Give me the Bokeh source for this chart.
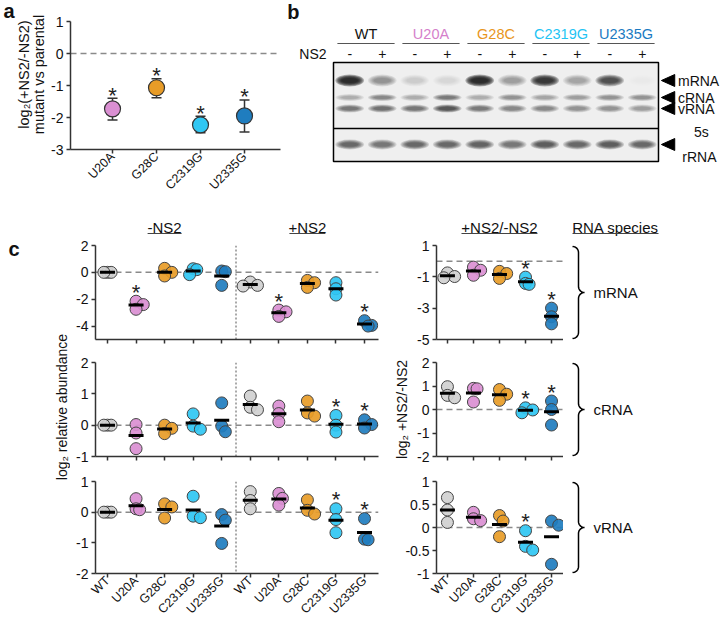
import math
import numpy as np
from bokeh.plotting import figure
from bokeh.models import Range1d, Span, FixedTicker, CustomJSTickFormatter
from bokeh.layouts import row, column
from bokeh.embed import file_html
from bokeh.resources import INLINE
from bokeh.core.properties import value

FONT = "Liberation Sans"

# ---------------- data ----------------
# panel a : log2(+NS2/-NS2) mutant vs parental, mean with error range
mutants = ["U20A", "G28C", "C2319G", "U2335G"]
a_mean = [-1.73, -1.07, -2.23, -1.95]
a_low = [-2.08, -1.38, -2.48, -2.45]
a_high = [-1.40, -0.79, -1.96, -1.45]
a_sig = [1, 1, 1, 1]

strains = ["WT", "U20A", "G28C", "C2319G", "U2335G"]
dot_colors = ["#d0d0d0", "#da8fd2", "#e89c27", "#30c7f3", "#1f7dbf"]
name_colors = ["#111111", "#d57fcb", "#e8961d", "#1fc4f4", "#1a7ac2"]

# panel b : band darkness (0-1) per lane (WT-, WT+, U20A-, U20A+, ...)
ns2_signs = ["-", "+"] * 5
band_mrna = [0.95, 0.45, 0.15, 0.10, 0.95, 0.40, 0.90, 0.35, 0.78, 0.03]
band_crna = [0.30, 0.50, 0.30, 0.55, 0.30, 0.45, 0.35, 0.40, 0.45, 0.45]
band_vrna = [0.60, 0.62, 0.60, 0.75, 0.55, 0.50, 0.50, 0.45, 0.45, 0.40]
band_rrna = [0.65, 0.60, 0.65, 0.65, 0.68, 0.60, 0.72, 0.65, 0.72, 0.65]

# panel c : log2 relative abundance, three replicates per strain
mrna_minus = [[0, 0, 0], [-2.15, -2.4, -2.75], [0.3, 0.0, -0.27], [0.27, 0.2, -0.17], [0.1, 0.05, -0.97]]
mrna_plus = [[-0.72, -0.97, -1.02], [-2.81, -2.94, -3.28], [-0.6, -0.77, -1.12], [-0.77, -1.22, -1.69], [-3.6, -3.95, -4.0]]
mrna_ratio = [[-0.75, -0.98, -1.06], [-0.38, -0.58, -0.9], [-0.65, -0.79, -1.1], [-1.02, -1.42, -1.48], [-3.0, -3.55, -4.0]]
crna_minus = [[0, 0, 0], [0.02, -0.25, -0.75], [0.0, -0.1, -0.27], [0.36, -0.03, -0.13], [0.71, -0.03, -0.21]]
crna_plus = [[0.93, 0.57, 0.49], [0.61, 0.37, 0.11], [0.77, 0.39, 0.29], [0.31, 0.0, -0.22], [0.17, 0.02, -0.09]]
crna_ratio = [[0.97, 0.6, 0.5], [0.9, 0.88, 0.32], [0.85, 0.65, 0.39], [0.07, -0.02, -0.14], [0.36, 0.0, -0.66]]
vrna_minus = [[0, 0, 0], [0.44, 0.11, 0.08], [0.27, 0.17, -0.19], [0.52, -0.13, -0.18], [-0.08, -0.26, -1.02]]
vrna_plus = [[0.67, 0.38, 0.11], [0.61, 0.45, 0.23], [0.4, 0.06, -0.06], [0.11, -0.24, -0.67], [-0.21, -0.88, -0.9]]
vrna_ratio = [[0.65, 0.38, 0.11], [0.33, 0.19, 0.15], [0.26, 0.14, -0.2], [-0.07, -0.41, -0.49], [0.14, 0.05, -0.8]]

mrna_minus_sig = [0, 1, 0, 0, 0]
mrna_plus_sig = [0, 1, 0, 0, 1]
mrna_ratio_sig = [0, 0, 0, 1, 1]
crna_minus_sig = [0, 0, 0, 0, 0]
crna_plus_sig = [0, 0, 0, 1, 1]
crna_ratio_sig = [0, 0, 0, 1, 1]
vrna_minus_sig = [0, 0, 0, 0, 0]
vrna_plus_sig = [0, 0, 0, 1, 1]
vrna_ratio_sig = [0, 0, 0, 1, 0]

species = ["mRNA", "cRNA", "vRNA"]


# ---------------- helpers ----------------
def base_fig(w, h, xr, yr, left, right, top, bottom, axes=True):
    kw = dict(width=w, height=h, x_range=xr, y_range=yr, output_backend="svg",
              toolbar_location=None, min_border_left=left, min_border_right=right,
              min_border_top=top, min_border_bottom=bottom, title=None)
    if not axes:
        kw.update(x_axis_location=None, y_axis_location=None)
    p = figure(**kw)
    p.outline_line_color = None
    p.background_fill_color = "white"
    p.border_fill_color = "white"
    p.xgrid.visible = False
    p.ygrid.visible = False
    return p


def txt(p, x, y, t, size="14px", align="center", baseline="middle", color="#111111",
        style="normal", angle=0.0, y_offset=0):
    p.text(x=x, y=y, text=t, text_align=align, text_baseline=baseline, angle=angle,
           text_font=value(FONT), text_font_size=value(size), text_font_style=style,
           text_color=color, y_offset=y_offset)


def style_axes(p):
    for ax in p.axis:
        ax.axis_line_color = "#333333"
        ax.axis_line_width = 1.5
        ax.major_tick_line_color = "#333333"
        ax.major_tick_line_width = 1.5
        ax.major_tick_in = 0
        ax.major_tick_out = 4
        ax.minor_tick_line_color = None
        ax.major_label_text_font = FONT
        ax.major_label_text_font_size = "14px"
        ax.major_label_text_color = "#111111"
        ax.major_label_standoff = 3
        ax.axis_label_text_font = FONT
        ax.axis_label_text_font_style = "normal"
        ax.axis_label_text_font_size = "14px"
        ax.axis_label_text_color = "#111111"
        ax.axis_label_standoff = 4
    p.yaxis.formatter = CustomJSTickFormatter(code="return String(tick)")


def beeswarm(vals, ppx_x, ppx_y, d=12.0):
    placed, offs = [], []
    for v in vals:
        y = v * ppx_y
        chosen = 0.0
        for k in [0, 1, -1, 2, -2, 3, -3, 4, -4]:
            dx = k * 0.3 * d
            ok = True
            for px, py in placed:
                dist2 = (dx - px) ** 2 + (y - py) ** 2
                if dist2 < (0.5 * d) ** 2 and not (abs(dx - px) >= 0.3 * d and abs(y - py) < 1):
                    ok = False
                    break
            if ok:
                chosen = dx
                break
        placed.append((chosen, y))
        offs.append(chosen / ppx_x)
    return offs


def dot_chart(groups, sigs, xr, w, h, borders, yrange, yticks, xlabels=None, divider=None,
              ylabel=None):
    left, right, top, bottom = borders
    p = base_fig(w, h, xr, Range1d(*yrange), left, right, top, bottom)
    fw, fh = w - left - right, h - top - bottom
    ppx_x = fw / (xr.end - xr.start)
    ppx_y = fh / (yrange[1] - yrange[0])
    n = len(groups)
    cats = list(range(1, n + 1))
    cols = (dot_colors * 2)[:n]
    xs, ys, cs = [], [], []
    for i, vals in enumerate(groups):
        offs = beeswarm(vals, ppx_x, ppx_y)
        for v, o in zip(vals, offs):
            xs.append(cats[i] + o)
            ys.append(v)
            cs.append(cols[i])
    p.add_layout(Span(location=0, dimension="width", line_color="#8a8a8a",
                      line_dash="6 4", line_width=1.5, level="underlay"))
    if divider is not None:
        p.add_layout(Span(location=divider, dimension="height", line_color="#555555",
                          line_dash="2 2", line_width=1, level="underlay"))
    p.scatter(x=xs, y=ys, size=12, marker="circle", fill_color=cs, fill_alpha=0.92,
              line_color="#444444", line_width=1)
    means = [float(np.mean(g)) for g in groups]
    hw = 7.5 / ppx_x
    p.segment(x0=[c - hw for c in cats], y0=means, x1=[c + hw for c in cats], y1=means,
              line_color="black", line_width=3)
    sx = [c for c, s in zip(cats, sigs) if s]
    sy = [max(g) for g, s in zip(groups, sigs) if s]
    if sx:
        txt(p, sx, sy, ["*"] * len(sx), size="22px", y_offset=-9, color="#222222")
    style_axes(p)
    p.xaxis.ticker = FixedTicker(ticks=cats)
    if xlabels:
        p.xaxis.major_label_overrides = {c: l for c, l in zip(cats, xlabels)}
        p.xaxis.major_label_orientation = math.pi / 4
        p.xaxis.major_label_text_font_size = "12.5px"
        p.xaxis.major_label_standoff = 1
    else:
        p.xaxis.major_label_overrides = {c: "" for c in cats}
        p.xaxis.major_label_standoff = 0
    p.yaxis.ticker = FixedTicker(ticks=yticks)
    if ylabel:
        p.yaxis.axis_label = ylabel
    return p


def brace_fig(w, h, top, bottom, label):
    p = base_fig(w, h, Range1d(0, w), Range1d(0, 1), 0, 0, top, bottom, axes=False)
    fh = h - top - bottom
    r, xl = 6.0, 9.0
    xm = xl + r
    T, B, M = 1.0, fh - 1.0, fh / 2.0
    pts = []
    for t in np.linspace(-90, 0, 10):
        a = math.radians(t)
        pts.append((xl + r * math.cos(a), T + r + r * math.sin(a)))
    for t in np.linspace(180, 90, 10):
        a = math.radians(t)
        pts.append((xm + r + r * math.cos(a), M - r + r * math.sin(a)))
    for t in np.linspace(270, 180, 10):
        a = math.radians(t)
        pts.append((xm + r + r * math.cos(a), M + r + r * math.sin(a)))
    for t in np.linspace(0, 90, 10):
        a = math.radians(t)
        pts.append((xl + r * math.cos(a), B - r + r * math.sin(a)))
    p.line(x=[q[0] for q in pts], y=[1 - q[1] / fh for q in pts], line_color="black",
           line_width=1.5)
    txt(p, [30], [0.5], [label], size="15px", align="left")
    return p


# ---------------- panel a ----------------
TOP_H = 200
acol = base_fig(48, TOP_H, Range1d(0, 48), Range1d(0, TOP_H), 0, 0, 0, 0, axes=False)
txt(acol, [3], [TOP_H - 10], ["a"], size="20px", align="left", style="bold")
txt(acol, [23], [TOP_H - 74], ["log\u2082(+NS2/-NS2)"], size="14.5px", angle=math.pi / 2)
txt(acol, [38], [TOP_H - 74], ["mutant vs parental"], size="14.5px", angle=math.pi / 2)

pa = base_fig(238, TOP_H, Range1d(0.045, 4.818), Range1d(-3, 1), 22, 6, 21, 46)
ax_x = list(range(1, len(mutants) + 1))
pa.add_layout(Span(location=0, dimension="width", line_color="#8a8a8a",
                   line_dash="6 4", line_width=1.5, level="underlay"))
cw = 5.0 / 44.0
pa.segment(x0=ax_x, y0=a_low, x1=ax_x, y1=a_high, line_color="#333333", line_width=1.5)
pa.segment(x0=[x - cw for x in ax_x], y0=a_low, x1=[x + cw for x in ax_x], y1=a_low,
           line_color="#333333", line_width=1.5)
pa.segment(x0=[x - cw for x in ax_x], y0=a_high, x1=[x + cw for x in ax_x], y1=a_high,
           line_color="#333333", line_width=1.5)
pa.scatter(x=ax_x, y=a_mean, size=16, marker="circle", fill_color=dot_colors[1:],
           line_color="#333333", line_width=1.2)
txt(pa, [x for x, s in zip(ax_x, a_sig) if s], [h for h, s in zip(a_high, a_sig) if s],
    ["*"] * sum(a_sig), size="22px", y_offset=-3, color="#222222")
style_axes(pa)
pa.xaxis.ticker = FixedTicker(ticks=ax_x)
pa.xaxis.major_label_overrides = {x: m for x, m in zip(ax_x, mutants)}
pa.xaxis.major_label_orientation = math.pi / 4
pa.xaxis.major_label_text_font_size = "12.5px"
pa.xaxis.major_label_standoff = 1
pa.yaxis.ticker = FixedTicker(ticks=[1, 0, -1, -2, -3])

# ---------------- panel b (gel) ----------------
pb = base_fig(434, TOP_H, Range1d(-1.946, 11.408), Range1d(138, -62), 0, 0, 0, 0, axes=False)
lanes = list(range(10))
pb.quad(left=[-0.5], right=[9.5], top=[0], bottom=[99], fill_color="#efefef", line_color=None)


def draw_bands(p, intens, y, h, w=0.88, n_layers=6):
    alphas = [1 - (1 - 0.93 * i) ** (1.0 / n_layers) for i in intens]
    for k in range(n_layers):
        f = 1 - k / n_layers
        p.ellipse(x=lanes, y=[y] * len(lanes), width=w * (0.5 + 0.5 * f),
                  height=h * (0.3 + 0.7 * f), fill_color="#151515", fill_alpha=alphas,
                  line_color=None)


draw_bands(pb, band_mrna, 18, 12)
draw_bands(pb, band_crna, 35, 7)
draw_bands(pb, band_vrna, 46, 8)
draw_bands(pb, band_rrna, 82, 10)
pb.quad(left=[-0.5], right=[9.5], top=[0], bottom=[99], fill_color=None,
        line_color="black", line_width=1.5)
pb.segment(x0=[-0.5], y0=[66], x1=[9.5], y1=[66], line_color="black", line_width=1.5)
grp = [2 * i + 0.5 for i in range(5)]
txt(pb, grp, [-29] * 5, strains, size="14.5px", color=name_colors)
pb.segment(x0=[g - 0.88 for g in grp], y0=[-19] * 5, x1=[g + 0.88 for g in grp], y1=[-19] * 5,
           line_color="#555555", line_width=1.2)
txt(pb, lanes, [-9] * 10, ns2_signs, size="14px")
txt(pb, [-0.715], [-9], ["NS2"], size="14px", align="right")
arrow_y = [18, 35, 46, 82]
pb.patches(xs=[[9.59, 10.0, 10.0] for _ in arrow_y],
           ys=[[y, y - 6, y + 6] for y in arrow_y], fill_color="black", line_color="black")
txt(pb, [10.1] * 3, arrow_y[:3], species, size="14px", align="left")
txt(pb, [10.82, 10.76], [69, 94], ["5s", "rRNA"], size="14px")
txt(pb, [-1.92], [-51], ["b"], size="20px", align="left", style="bold")

# ---------------- panel c ----------------
xL = Range1d(0.58, 10.49)
xR = Range1d(0.58, 5.46)
WY, WL, WR, WB = 70, 316, 177, 157
BL = (25, 8)
BR = (50, 0)
HH, H1, H2, H3 = 36, 114, 118, 156
C_H = HH + H1 + H2 + H3

ylab = base_fig(WY, C_H, Range1d(0, WY), Range1d(0, C_H), 0, 0, 0, 0, axes=False)
txt(ylab, [8], [C_H - 48], ["c"], size="20px", align="left", style="bold")
txt(ylab, [61], [C_H - 206.5], ["log\u2082 relative abundance"], size="14px", angle=math.pi / 2)

hdrL = base_fig(WL, HH, xL, Range1d(0, HH), BL[0], BL[1], 0, 0, axes=False)
pplx = (WL - BL[0] - BL[1]) / (xL.end - xL.start)
txt(hdrL, [3, 8], [9.5, 9.5], ["-NS2", "+NS2"], size="15px")
hdrL.segment(x0=[3 - 17 / pplx, 8 - 18 / pplx], y0=[3, 3], x1=[3 + 17 / pplx, 8 + 18 / pplx],
             y1=[3, 3], line_color="#444444", line_width=1)
hdrR = base_fig(WR, HH, xR, Range1d(0, HH), BR[0], BR[1], 0, 0, axes=False)
pprx = (WR - BR[0] - BR[1]) / (xR.end - xR.start)
txt(hdrR, [3], [9.5], ["+NS2/-NS2"], size="15px")
hdrR.segment(x0=[3 - 38 / pprx], y0=[3], x1=[3 + 38 / pprx], y1=[3], line_color="#444444",
             line_width=1)
hdrB = base_fig(WB, HH, Range1d(0, WB), Range1d(0, HH), 0, 0, 0, 0, axes=False)
txt(hdrB, [52], [9.5], ["RNA species"], size="15px")
hdrB.segment(x0=[52 - 43], y0=[3], x1=[52 + 43], y1=[3], line_color="#444444", line_width=1)

R1 = (9, 11)
R2 = (12, 12)
R3 = (13, 49)
c1L = dot_chart(mrna_minus + mrna_plus, mrna_minus_sig + mrna_plus_sig, xL, WL, H1,
                (BL[0], BL[1]) + R1, (-5, 2), [2, 0, -2, -4], divider=5.5)
c1R = dot_chart(mrna_ratio, mrna_ratio_sig, xR, WR, H1, (BR[0], BR[1]) + R1, (-5, 1),
                [1, -1, -3, -5])
b1 = brace_fig(WB, H1, R1[0], R1[1], species[0])

c2L = dot_chart(crna_minus + crna_plus, crna_minus_sig + crna_plus_sig, xL, WL, H2,
                (BL[0], BL[1]) + R2, (-1, 2), [2, 1, 0, -1], divider=5.5)
c2R = dot_chart(crna_ratio, crna_ratio_sig, xR, WR, H2, (BR[0], BR[1]) + R2, (-2, 2),
                [2, 1, 0, -1, -2], ylabel="log\u2082 +NS2/-NS2")
b2 = brace_fig(WB, H2, R2[0], R2[1], species[1])

c3L = dot_chart(vrna_minus + vrna_plus, vrna_minus_sig + vrna_plus_sig, xL, WL, H3,
                (BL[0], BL[1]) + R3, (-2, 1), [1, 0, -1, -2], xlabels=strains * 2, divider=5.5)
c3R = dot_chart(vrna_ratio, vrna_ratio_sig, xR, WR, H3, (BR[0], BR[1]) + R3, (-1, 1),
                [1, 0.5, 0, -0.5, -1], xlabels=strains)
b3 = brace_fig(WB, H3, R3[0], R3[1], species[2])

layout = column(
    row(column(acol), column(pa), column(pb)),
    row(column(ylab), column(
        row(hdrL, hdrR, hdrB),
        row(c1L, c1R, b1),
        row(c2L, c2R, b2),
        row(c3L, c3R, b3),
    )),
)

open("out.html", "w").write(file_html(layout, INLINE))
